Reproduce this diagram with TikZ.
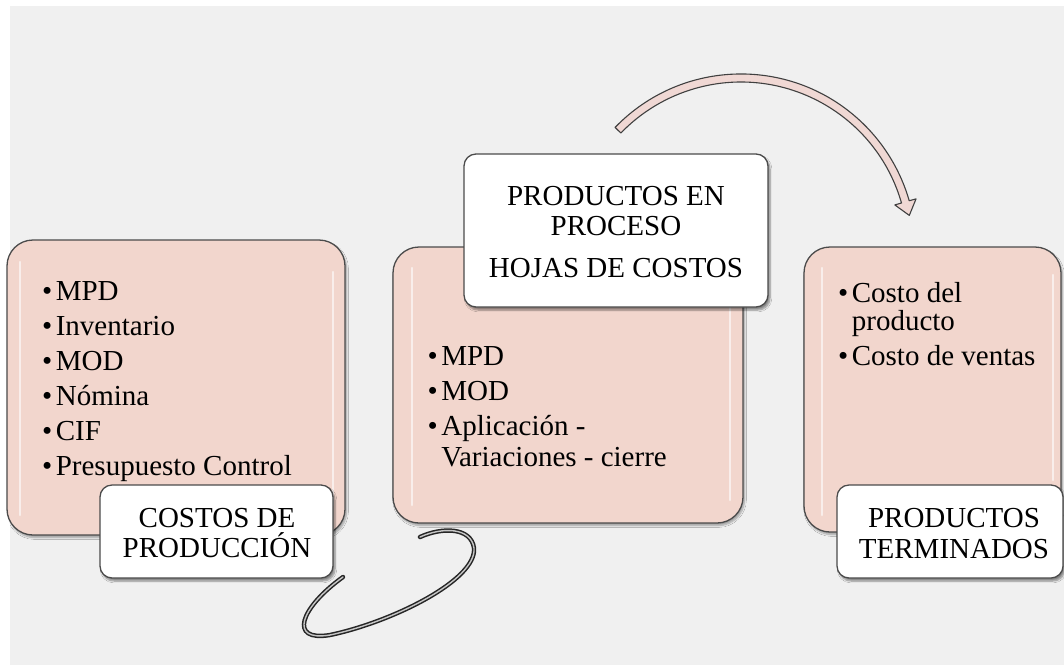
\documentclass[tikz,border=0pt]{standalone}
\usepackage{fontspec}
\setmainfont{Liberation Serif}
\usetikzlibrary{shadows.blur}
\definecolor{bggray}{RGB}{240,240,240}
\definecolor{boxpink}{RGB}{242,214,205}
\definecolor{edgegray}{RGB}{75,75,75}
\definecolor{arrowpink}{RGB}{240,216,212}
\tikzset{
  pinkbox/.style={draw=edgegray, line width=1.3pt, fill=boxpink, rounded corners=26pt,
    inner sep=0pt, blur shadow={shadow blur steps=6, shadow xshift=1.5pt, shadow yshift=-2.5pt, shadow opacity=35}},
  labelbox/.style={draw=edgegray, line width=1.3pt, fill=white, rounded corners=12pt,
    inner sep=0pt, blur shadow={shadow blur steps=6, shadow xshift=2pt, shadow yshift=-3pt, shadow opacity=45}},
  txt/.style={inner sep=0pt, font=\fontsize{29}{35}\selectfont, anchor=base west},
  ctxt/.style={inner sep=0pt, font=\fontsize{29}{35}\selectfont, anchor=base},
  gloss/.style={draw=white, line width=2.5pt, line cap=round, opacity=0.6},
  bigarrow/.style={draw=black!75, line width=1.1pt, fill=arrowpink, line join=round},
  rope/.style={draw=black!85, line width=1.5pt, double=gray!45, double distance=1.4pt, line cap=round}
}
\newcommand{\bul}{\textbullet\hspace{3.5pt}}
\newcommand{\nobul}{\phantom{\textbullet}\hspace{3.5pt}}
\begin{document}
\begin{tikzpicture}[x=1pt,y=-1pt]
\useasboundingbox (0,0) rectangle (1064,665);
\fill[bggray] (10,6) rectangle (1064,665);

% ---- box 1 : costos de produccion
\node[pinkbox, minimum width=338pt, minimum height=295pt] (b1) at (176,387.5) {};
\draw[gloss] (20,262) -- (20,515);
\draw[gloss] (333,272) -- (333,505);
\node[txt] (b1a) at (42,300) {\bul MPD};
\node[txt] (b1b) at (42,335) {\bul Inventario};
\node[txt] (b1c) at (42,370) {\bul MOD};
\node[txt] (b1d) at (42,405) {\bul Nómina};
\node[txt] (b1e) at (42,440) {\bul CIF};
\node[txt] (b1f) at (42,475) {\bul Presupuesto Control};

% ---- box 2 : productos en proceso
\node[pinkbox, minimum width=350pt, minimum height=276pt] (b2) at (568,385) {};
\draw[gloss] (412,268) -- (412,505);
\draw[gloss] (730,300) -- (730,500);
\node[txt] (b2a) at (427.5,365) {\bul MPD};
\node[txt] (b2b) at (427.5,400) {\bul MOD};
\node[txt] (b2c) at (427.5,435) {\bul Aplicación -};
\node[txt] (b2d) at (427.5,466) {\nobul Variaciones - cierre};

% ---- box 3 : productos terminados
\node[pinkbox, minimum width=257pt, minimum height=285pt] (b3) at (932.5,389.5) {};
\draw[gloss] (822,268) -- (822,515);
\draw[gloss] (1053,275) -- (1053,480);
\node[txt] (b3a) at (838,302) {\bul Costo del};
\node[txt] (b3b) at (838,330) {\nobul producto};
\node[txt] (b3c) at (838,365) {\bul Costo de ventas};

% ---- rope connector between box 1 and box 2
\coordinate (r0) at (343,577);
\coordinate (r1) at (330,635);
\coordinate (r2) at (474,548);
\coordinate (r3) at (420,537);
\draw[rope] (r0) .. controls (300,608) and (288,642) .. (r1)
  .. controls (392,622) and (477,580) .. (r2)
  .. controls (471,527) and (442,527) .. (r3);

% ---- label boxes
\node[labelbox, minimum width=233pt, minimum height=93pt] (l1) at (216.5,531.5) {};
\node[ctxt] (l1a) at (217,527) {COSTOS DE};
\node[ctxt] (l1b) at (217,557) {PRODUCCIÓN};

\node[labelbox, minimum width=304pt, minimum height=153pt] (l2) at (616,230.5) {};
\node[ctxt] (l2a) at (616,205) {PRODUCTOS EN};
\node[ctxt] (l2b) at (616,235) {PROCESO};
\node[ctxt] (l2c) at (616,277) {HOJAS DE COSTOS};

\node[labelbox, minimum width=226pt, minimum height=93pt] (l3) at (950,531.5) {};
\node[ctxt] (l3a) at (954,527) {PRODUCTOS};
\node[ctxt] (l3b) at (954,558) {TERMINADOS};

% ---- curved block arrow from box 2 label to box 3
\coordinate (ac) at (741,249);
\draw[bigarrow] (615.1,127.4) arc[start angle=-136, end angle=-16, radius=175]
  -- (916,198.9) -- (909.3,215.4) -- (894.8,204.9) -- (901.5,203.0)
  arc[start angle=-16, end angle=-136, radius=167] -- cycle;
\end{tikzpicture}
\end{document}
